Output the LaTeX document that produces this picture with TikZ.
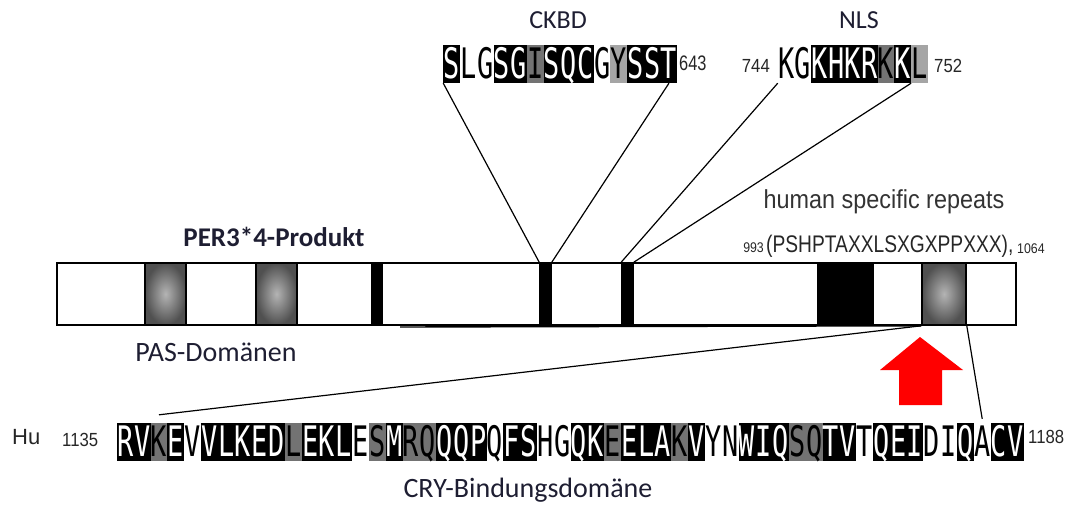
\documentclass[tikz,border=0pt]{standalone}
\usepackage{fontspec}
\setmainfont{Carlito}
\newfontfamily\arialfont{Liberation Sans}
\newfontfamily\seqfont{DejaVu Sans Mono}
\usepackage{graphicx}
\usepackage{xcolor}
\definecolor{txtdark}{RGB}{30, 30, 50}
\definecolor{resgray}{RGB}{115, 115, 115}
\definecolor{reslight}{RGB}{165, 165, 165}
\definecolor{pasouter}{RGB}{80, 80, 80}
\definecolor{pasinner}{RGB}{180, 180, 180}
\definecolor{arrred}{RGB}{255, 0, 0}
\usetikzlibrary{calc}
\newcommand{\fsz}[1]{\fontsize{#1pt}{#1pt}\selectfont}
\newcommand{\resletter}[1]{\scalebox{0.64}[1]{#1}}
\newcommand{\narrow}[1]{\scalebox{0.88}[1]{#1}}

\begin{document}
\begin{tikzpicture}[x=1pt, y=-1pt,
    res/.style={inner sep=0pt, minimum width=16.8pt, text height=33pt,
        text depth=5pt, anchor=base, font=\seqfont\fsz{42}},
    resb/.style={res, fill=black, text=white},
    resw/.style={res, fill=white, text=black},
    resg/.style={res, fill=resgray, text=black},
    resl/.style={res, fill=reslight, text=black},
    bar/.style={draw=black, line width=1.6pt, inner sep=0pt, minimum height=62pt},
    pas/.style={bar, shading=radial, inner color=pasinner, outer color=pasouter},
    motif/.style={bar, fill=black},
    lbl/.style={text=txtdark, font=\fsz{28}},
    num/.style={inner sep=0pt, text=black!85, font=\arialfont\fsz{19}},
    conn/.style={line width=1.2pt, black}]

\useasboundingbox (0,0) rectangle (1075,504);

% === Proteinbalken PER3 ===
\node[bar, minimum width=959pt, fill=white] (per3) at (536.5,294) {};
\node[pas, minimum width=41pt] (pas1) at (165.5,294) {};
\node[pas, minimum width=41pt] (pas2) at (276.5,294) {};
\node[motif, minimum width=10pt] (stopbar) at (377,294) {};
\node[motif, minimum width=11pt] (ckbar) at (545.5,294) {};
\node[motif, minimum width=11pt] (nlsbar) at (627.5,294) {};
\node[motif, minimum width=55pt] (block) at (845.5,294) {};
\node[pas, minimum width=44pt] (rep) at (944,294) {};

% zweite Unterkante (versetzt)
\coordinate (lowstart) at (400,327);
\draw[line width=1.4pt] (lowstart) -- (rep.south west);

% === Beschriftungen am Balken ===
\node[lbl, font=\bfseries\fsz{27}] (per3lbl) at (274,237) {PER3*4-Produkt};
\node[lbl] (paslbl) at (216,352) {PAS-Domänen};
\node[font=\arialfont\fsz{26}, text=black!80] (hsr) at (884,202)
    {\scalebox{0.9}[1]{human specific repeats}};
\node[num, anchor=east, font=\arialfont\fsz{14}] (n993) at (764,248) {\narrow{993}};
\node[num, anchor=west, font=\arialfont\fsz{24}] (rpt) at (766,246)
    {\scalebox{0.8}[1]{(PSHPTAXXLSXGXPPXXX),}};
\node[num, anchor=west, font=\arialfont\fsz{14}] (n1064) at (1017,249) {\narrow{1064}};

% === CKBD-Sequenz ===
\node[lbl, font=\fsz{26}] (ckbd) at (558,20) {CKBD};
\foreach \ltr/\sh [count=\i] in {S/b,L/w,G/w,S/b,G/b,I/g,S/b,Q/b,C/b,G/w,Y/l,S/b,S/b,T/b}
    \node[res\sh] (ck\i) at ({443.5+16.7*\i-8.35},78) {\resletter{\ltr}};
\node[num, anchor=west, font=\arialfont\fsz{21}] (n643) at (679,63)
    {\scalebox{0.78}[1]{643}};

% === NLS-Sequenz ===
\node[lbl, font=\fsz{26}] (nls) at (859,20) {NLS};
\foreach \ltr/\sh [count=\i] in {K/w,G/w,K/b,H/b,K/b,R/b,K/g,K/b,L/l}
    \node[res\sh] (nl\i) at ({778+16.6*\i-8.3},78) {\resletter{\ltr}};
\node[num, anchor=east] (n744) at (770,66) {\narrow{744}};
\node[num, anchor=west] (n752) at (934,66) {\narrow{752}};

% Linien Balken -> Sequenz
\draw[conn] (ckbar.north west) -- (ck1.south west);
\draw[conn] (ckbar.north east) -- (ck14.south);
\draw[conn] (nlsbar.north west) -- (nl1.south west);
\draw[conn] (nlsbar.north east) -- (nl8.south east);

% === CRY-Bindungsdomäne ===
\node[num, font=\arialfont\fsz{22}, anchor=west] (hu) at (12,437) {Hu};
\node[num, anchor=west] (n1135) at (62,440) {\narrow{1135}};
\foreach \ltr/\sh [count=\i] in {R/b,V/b,K/g,E/b,V/w,V/b,L/b,K/b,E/b,D/b,L/g,E/b,K/b,L/b,
    E/w,S/g,M/b,R/g,Q/g,Q/b,Q/b,P/b,Q/w,F/b,S/b,H/w,G/w,Q/b,K/b,E/g,E/b,L/b,A/b,K/g,
    V/b,Y/w,N/w,W/b,I/b,Q/b,S/g,Q/g,T/b,V/b,T/w,Q/b,E/b,I/b,D/w,I/w,Q/b,A/w,C/b,V/b}
    \node[res\sh] (sq\i) at ({117+16.8*\i-8.4},456) {\resletter{\ltr}};
\node[num, anchor=west] (n1188) at (1028,437) {\narrow{1188}};
\node[lbl] (crylbl) at (528,490) {CRY-Bindungsdomäne};

\draw[conn] (rep.south west) -- ([yshift=8pt]sq3.north);
\draw[conn] (rep.south east) -- ([yshift=4pt]sq52.north);

% === roter Pfeil ===
\coordinate (arrtip) at (920,337);
\fill[arrred] (arrtip) -- (963,370) -- (942,370) -- (942,405)
    -- (899,405) -- (899,370) -- (880,370) -- cycle;

\end{tikzpicture}
\end{document}
